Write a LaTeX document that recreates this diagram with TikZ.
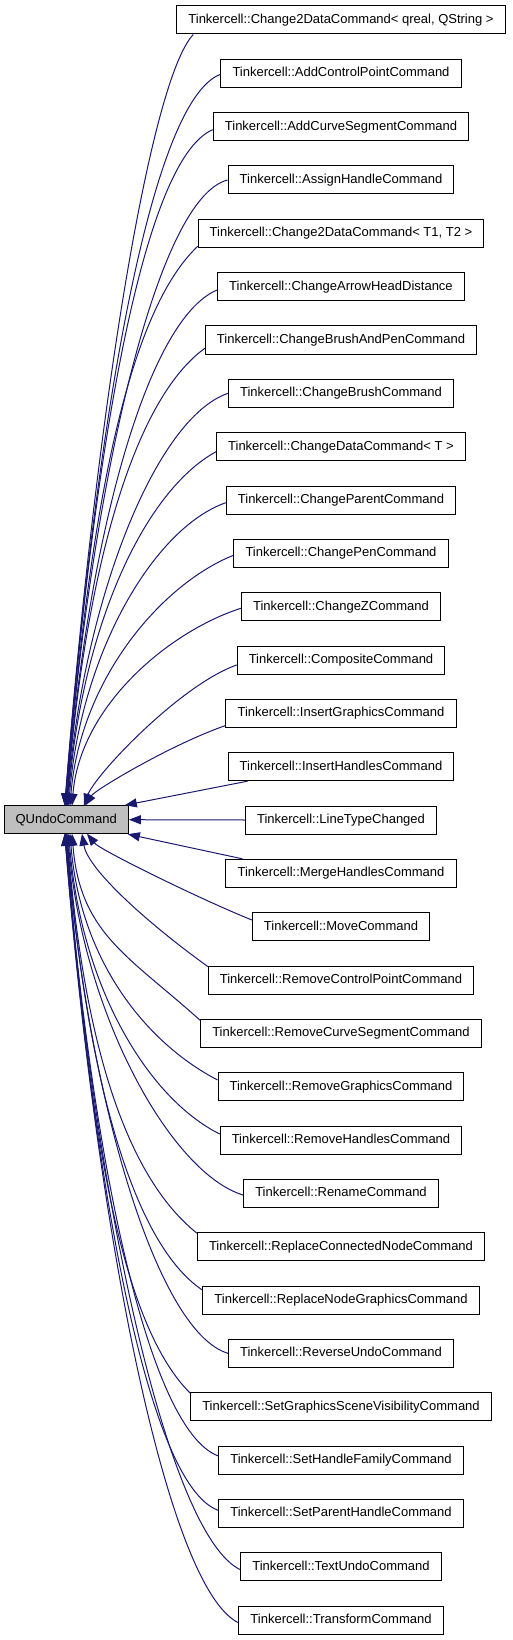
\documentclass[tikz,border=0pt]{standalone}
\usepackage{fontspec}
\setmainfont{Liberation Sans}
\usetikzlibrary{arrows.meta}
\definecolor{edgeblue}{HTML}{191970}
\definecolor{basegray}{HTML}{BFBFBF}
\tikzset{
  cls/.style={draw=black, line width=1pt, minimum height=28pt, inner xsep=11.6pt,
    inner ysep=0pt, font=\fontsize{13}{15}\selectfont, text height=9.5pt, text depth=2.5pt},
  basecls/.style={cls, fill=basegray},
  inh/.style={draw=edgeblue, line width=1pt, {Triangle[length=12pt,width=9pt]}-}
}
\begin{document}
\begin{tikzpicture}[x=1pt,y=1pt]
\useasboundingbox (0,0) rectangle (512,-1640);
\node[basecls] (q) at (66.2,-819.7) {QUndoCommand};
\foreach \i/\t in {
 0/{Tinkercell::Change2DataCommand< qreal, QString >},
 1/{Tinkercell::AddControlPointCommand},
 2/{Tinkercell::AddCurveSegmentCommand},
 3/{Tinkercell::AssignHandleCommand},
 4/{Tinkercell::Change2DataCommand< T1, T2 >},
 5/{Tinkercell::ChangeArrowHeadDistance},
 6/{Tinkercell::ChangeBrushAndPenCommand},
 7/{Tinkercell::ChangeBrushCommand},
 8/{Tinkercell::ChangeDataCommand< T >},
 9/{Tinkercell::ChangeParentCommand},
 10/{Tinkercell::ChangePenCommand},
 11/{Tinkercell::ChangeZCommand},
 12/{Tinkercell::CompositeCommand},
 13/{Tinkercell::InsertGraphicsCommand},
 14/{Tinkercell::InsertHandlesCommand},
 15/{Tinkercell::LineTypeChanged},
 16/{Tinkercell::MergeHandlesCommand},
 17/{Tinkercell::MoveCommand},
 18/{Tinkercell::RemoveControlPointCommand},
 19/{Tinkercell::RemoveCurveSegmentCommand},
 20/{Tinkercell::RemoveGraphicsCommand},
 21/{Tinkercell::RemoveHandlesCommand},
 22/{Tinkercell::RenameCommand},
 23/{Tinkercell::ReplaceConnectedNodeCommand},
 24/{Tinkercell::ReplaceNodeGraphicsCommand},
 25/{Tinkercell::ReverseUndoCommand},
 26/{Tinkercell::SetGraphicsSceneVisibilityCommand},
 27/{Tinkercell::SetHandleFamilyCommand},
 28/{Tinkercell::SetParentHandleCommand},
 29/{Tinkercell::TextUndoCommand},
 30/{Tinkercell::TransformCommand}} {
  \pgfmathsetmacro{\yy}{-(20+53.333*\i)}
  \node[cls] (n\i) at (341,\yy) {\t};
}
% far edges: row / entry offset toward the base (px) / approach slope
\foreach \i/\off/\m in {1/1/0.38, 2/3/0.42, 3/0/0.25, 4/13/0.95, 5/3.3/0.42,
  6/8.3/0.72, 7/0/0.34, 8/5/0.55, 9/2.7/0.35, 10/2/0.4, 11/1.6/0.32,
  19/13/0.9, 20/6.7/0.52, 21/6/0.5, 22/-1.7/0.3, 23/13.5/0.8, 24/10/0.67,
  25/0/0.3, 26/13.5/1.0, 27/4/0.38, 28/3/0.36, 29/-3/0.48, 30/-2.7/0.49} {
  \pgfmathsetmacro{\yc}{-(20+53.333*\i)}
  \pgfmathsetmacro{\d}{abs(\i-15)}
  \pgfmathsetmacro{\s}{(\i<15)?1:-1}
  \pgfmathsetmacro{\yq}{(\i<15)?-805.7:-833.7}
  \pgfmathsetmacro{\H}{abs(\yc-\yq)}
  \pgfmathsetmacro{\xt}{62+40/\d}
  \pgfmathsetmacro{\pax}{\xt+0.04*\H}
  \pgfmathsetmacro{\pay}{\yq+\s*0.5*\H}
  \pgfmathsetmacro{\ey}{-\s*\off}
  \pgfmathsetmacro{\pby}{\ey-\s*72*\m}
  \draw[inh] (\xt,\yq) .. controls (\pax,\pay) and ([shift={(-72,\pby)}]n\i.west) .. ([yshift=\ey pt]n\i.west);
}
\draw[inh] (64.7,-805.7) .. controls (96,-413) and (150,-80) .. ([xshift=17pt]n0.south west);
\draw[inh] (84,-805.7) .. controls (95,-775) and (180,-685) .. ([yshift=-5pt]n12.west);
\draw[inh] (85,-805.7) .. controls (95,-790) and (170,-745) .. ([yshift=2.3pt]n13.south west);
\draw[inh] (87,-833.7) .. controls (100,-850) and (202,-900) .. ([yshift=6.7pt]n17.west);
\draw[inh] (82,-833.7) .. controls (88,-870) and (150,-925) .. ([yshift=-1pt]n18.north west);
\draw[inh] ([xshift=-4pt]q.north east) -- ([xshift=20pt]n14.south west);
\draw[inh] ([xshift=-1pt]q.south east) -- ([xshift=17pt]n16.north west);
\draw[inh] (q.east) -- (n15.west);
\end{tikzpicture}
\end{document}
